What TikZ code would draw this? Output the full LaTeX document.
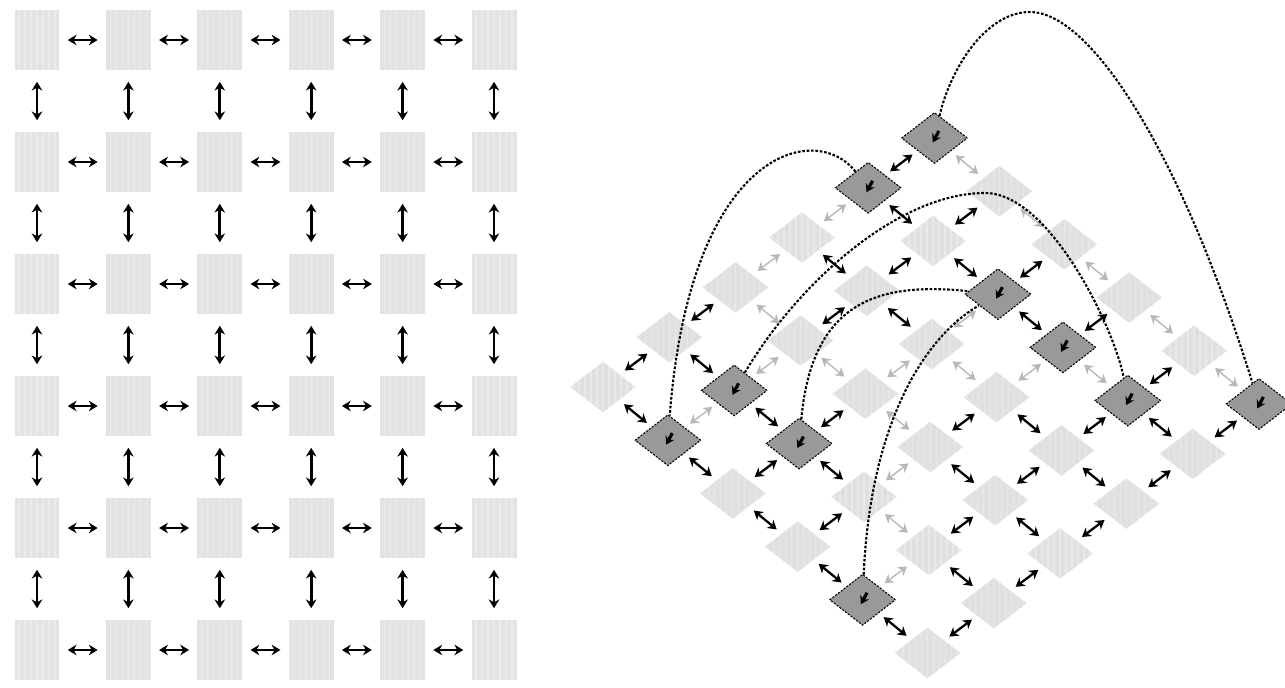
\documentclass[tikz,border=0pt]{standalone}
\usetikzlibrary{arrows.meta,shapes.geometric}

\tikzset{
  hatch/.style={path picture={
      \foreach \k in {-30,-24,...,30}
        \draw[white,line width=0.7pt,opacity=0.3]
          ([xshift=\k*0.02cm]path picture bounding box.north) --
          ([xshift=\k*0.02cm]path picture bounding box.south);
    }},
  cell_sq/.style={hatch,fill=black!11,minimum width=0.9cm,minimum height=1.2cm,inner sep=0pt},
  cell_dia/.style={hatch,diamond,fill=black!12,minimum width=1.32cm,minimum height=1.02cm,inner sep=0pt},
  hub_dia/.style={diamond,fill=black!40,draw=black,line width=0.6pt,dash pattern=on 1.2pt off 0.8pt,
      minimum width=1.32cm,minimum height=1.02cm,inner sep=0pt,
      path picture={\draw[solid,line width=1.8pt,-{Stealth[length=4.5pt,width=5.5pt]}]
          ([xshift=2.5pt,yshift=4pt]path picture bounding box.center) --
          ([xshift=-1pt,yshift=-2.5pt]path picture bounding box.center);}},
  dbl_tip/.style={{Stealth[length=5pt,width=6pt]}-{Stealth[length=5pt,width=6pt]}},
  h_link/.style={dbl_tip,line width=1.5pt,shorten <=4.5pt,shorten >=4.5pt},
  v_link/.style={dbl_tip,line width=1.5pt,shorten <=6.5pt,shorten >=6.5pt},
  d_link/.style={dbl_tip,line width=1.3pt,shorten <=3.5pt,shorten >=3.5pt},
  g_link/.style={d_link,black!28,line width=0.8pt},
  hop_arc/.style={line width=1.2pt,dash pattern=on 1.5pt off 1pt}
}

\begin{document}
\begin{tikzpicture}[x=0.02cm,y=-0.02cm]
  \useasboundingbox (0,0) rectangle (1285,687);

  % flat grid
  \foreach \r in {0,...,5}
    \foreach \c in {0,...,5}
      \node[cell_sq] (s_\r_\c) at ({37+91.4*\c},{40+122*\r}) {};
  \foreach \r in {0,...,5}
    \foreach \c [count=\n from 1] in {0,...,4}
      \draw[h_link] (s_\r_\c) -- (s_\r_\n);
  \foreach \c in {0,...,5}
    \foreach \r [count=\n from 1] in {0,...,4}
      \draw[v_link] (s_\r_\c) -- (s_\n_\c);

  % tilted grid, hubs drawn over the plain cells
  \foreach \i in {0,...,5}
    \foreach \j in {0,...,5}
      \node[cell_dia] (d_\i_\j) at ({603+66.3*\i+64.9*\j},{387-49.8*\i+53.2*\j}) {};
  \foreach \i/\j in {5/0,4/0,0/1,1/1,1/2,0/4,4/2,4/3,4/4,5/5}
    \node[hub_dia] (d_\i_\j) at ({603+66.3*\i+64.9*\j},{387-49.8*\i+53.2*\j}) {};

  \foreach \i/\j in {0/0,1/0,4/0,2/1,3/1,4/1,0/2,1/2,4/2,0/3,2/3,4/3,1/4,2/4,3/4,4/4,0/5,1/5,2/5,3/5,4/5} {
      \pgfmathtruncatemacro{\n}{\i+1}
      \draw[d_link] (d_\i_\j) -- (d_\n_\j);
    }
  \foreach \i/\j in {2/0,3/0,0/1,1/1,2/2,3/2,1/3,3/3,0/4} {
      \pgfmathtruncatemacro{\n}{\i+1}
      \draw[g_link] (d_\i_\j) -- (d_\n_\j);
    }
  \foreach \i/\j in {0/0,0/1,0/2,0/3,0/4,1/0,1/1,1/2,1/4,2/3,2/4,3/0,3/1,3/3,3/4,4/0,4/1,4/2,4/4} {
      \pgfmathtruncatemacro{\n}{\j+1}
      \draw[d_link] (d_\i_\j) -- (d_\i_\n);
    }
  \foreach \i/\j in {1/3,2/0,2/1,2/2,3/2,4/3,5/0,5/1,5/2,5/3,5/4} {
      \pgfmathtruncatemacro{\n}{\j+1}
      \draw[g_link] (d_\i_\j) -- (d_\i_\n);
    }

  % long range links
  \draw[hop_arc] (d_4_0) .. controls (815,120) and (690,150) .. (d_0_1);
  \draw[hop_arc] (d_5_0) .. controls (950,70) and (985,12) .. (1030,12)
                 .. controls (1090,12) and (1180,150) .. (d_5_5);
  \draw[hop_arc] (d_1_1) .. controls (800,280) and (900,193) .. (985,193)
                 .. controls (1050,193) and (1115,330) .. (d_4_4);
  \draw[hop_arc] (d_1_2) .. controls (812,300) and (880,282) .. (d_4_2);
  \draw[hop_arc] (d_0_4) .. controls (870,430) and (920,340) .. (d_4_2);
\end{tikzpicture}
\end{document}
